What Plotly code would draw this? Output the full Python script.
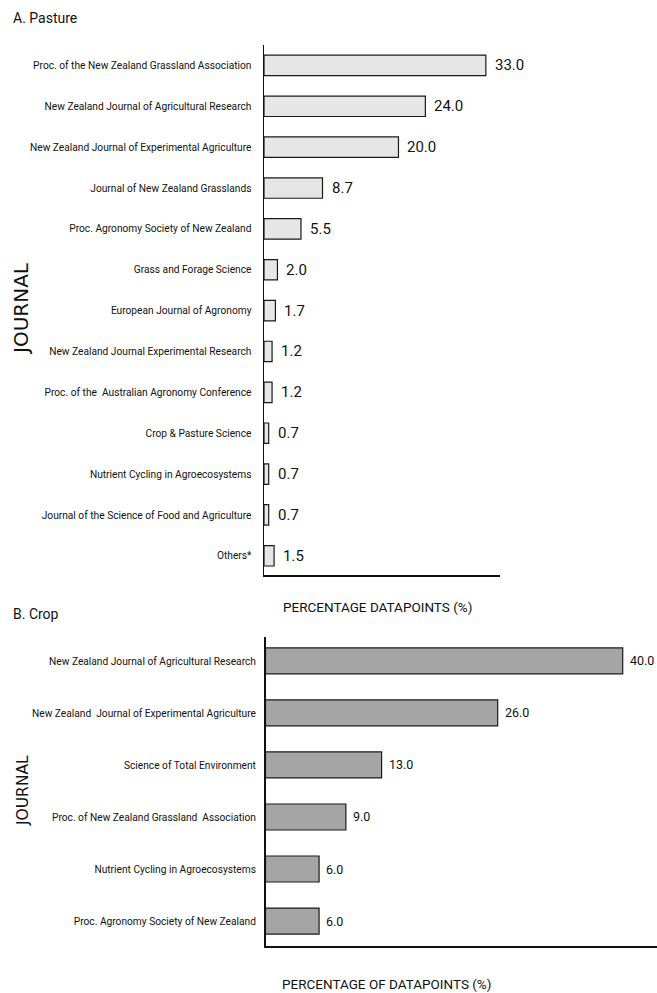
import plotly.graph_objects as go

W, H = 657, 993

# ---- Data ----
pasture_journals = [
    "Proc. of the New Zealand Grassland Association",
    "New Zealand Journal of Agricultural Research",
    "New Zealand Journal of Experimental Agriculture",
    "Journal of New Zealand Grasslands",
    "Proc. Agronomy Society of New Zealand",
    "Grass and Forage Science",
    "European Journal of Agronomy",
    "New Zealand Journal Experimental Research",
    "Proc. of the  Australian Agronomy Conference",
    "Crop & Pasture Science",
    "Nutrient Cycling in Agroecosystems",
    "Journal of the Science of Food and Agriculture",
    "Others*",
]
pasture_values = [33.0, 24.0, 20.0, 8.7, 5.5, 2.0, 1.7, 1.2, 1.2, 0.7, 0.7, 0.7, 1.5]

crop_journals = [
    "New Zealand Journal of Agricultural Research",
    "New Zealand  Journal of Experimental Agriculture",
    "Science of Total Environment",
    "Proc. of New Zealand Grassland  Association",
    "Nutrient Cycling in Agroecosystems",
    "Proc. Agronomy Society of New Zealand",
]
crop_values = [40.0, 26.0, 13.0, 9.0, 6.0, 6.0]

NARROW = "Roboto, Liberation Sans, sans-serif"
WIDE = "DejaVu Sans, Verdana, sans-serif"

fig = go.Figure()

fig.add_trace(go.Bar(
    y=pasture_journals, x=pasture_values, orientation="h", width=0.5,
    marker=dict(color="#e6e6e6", line=dict(color="#1a1a1a", width=1.2)),
    xaxis="x", yaxis="y", showlegend=False, hoverinfo="skip",
))
fig.add_trace(go.Bar(
    y=crop_journals, x=crop_values, orientation="h", width=0.5,
    marker=dict(color="#a5a5a5", line=dict(color="#1a1a1a", width=1.2)),
    xaxis="x2", yaxis="y2", showlegend=False, hoverinfo="skip",
))

annotations = []
for j, v in zip(pasture_journals, pasture_values):
    annotations.append(dict(x=v, y=j, xref="x", yref="y", text=f"{v:.1f}",
                            showarrow=False, xanchor="left", xshift=7,
                            font=dict(family=NARROW, size=15, color="#111")))
for j, v in zip(crop_journals, crop_values):
    annotations.append(dict(x=v, y=j, xref="x2", yref="y2", text=f"{v:.1f}",
                            showarrow=False, xanchor="left", xshift=5,
                            font=dict(family=NARROW, size=12.5, color="#111")))

def px_x(p):
    return p / W

def px_y(p):
    return 1 - p / H

# titles and axis titles
annotations += [
    dict(text="A. Pasture", x=px_x(11), y=px_y(18), xref="paper", yref="paper",
         xanchor="left", yanchor="middle", showarrow=False,
         font=dict(family=NARROW, size=14, color="#111")),
    dict(text="B. Crop", x=px_x(11), y=px_y(614), xref="paper", yref="paper",
         xanchor="left", yanchor="middle", showarrow=False,
         font=dict(family=NARROW, size=14, color="#111")),
    dict(text="PERCENTAGE DATAPOINTS (%)", x=px_x(377), y=px_y(607), xref="paper", yref="paper",
         xanchor="center", yanchor="middle", showarrow=False,
         font=dict(family=NARROW, size=13.5, color="#111")),
    dict(text="PERCENTAGE OF DATAPOINTS (%)", x=px_x(386), y=px_y(984), xref="paper", yref="paper",
         xanchor="center", yanchor="middle", showarrow=False,
         font=dict(family=NARROW, size=13.5, color="#111")),
    dict(text="JOURNAL", x=px_x(21), y=px_y(309), xref="paper", yref="paper",
         xanchor="center", yanchor="middle", showarrow=False, textangle=-90,
         font=dict(family=WIDE, size=20, color="#111")),
    dict(text="JOURNAL", x=px_x(23), y=px_y(791), xref="paper", yref="paper",
         xanchor="center", yanchor="middle", showarrow=False, textangle=-90,
         font=dict(family=WIDE, size=15.5, color="#111")),
]

axis_common = dict(showgrid=False, zeroline=False, showline=True,
                   linecolor="#111", linewidth=1.5, automargin=False)

fig.update_layout(
    width=W, height=H,
    margin=dict(l=0, r=0, t=0, b=0, autoexpand=False),
    paper_bgcolor="white", plot_bgcolor="white",
    bargap=0.5,
    annotations=annotations,
    xaxis=dict(domain=[px_x(264), px_x(500)], range=[0, 35.1], anchor="y",
               showticklabels=False, ticks="", **axis_common),
    yaxis=dict(domain=[px_y(575), px_y(45)], anchor="x",
               categoryorder="array", categoryarray=pasture_journals,
               range=[12.47, -0.5], ticks="", ticklabelstandoff=9,
               tickfont=dict(family=NARROW, size=10.2, color="#111"), **axis_common),
    xaxis2=dict(domain=[px_x(265.5), 1.0], range=[0, 43.84], anchor="y2",
                showticklabels=False, ticks="", **axis_common),
    yaxis2=dict(domain=[px_y(946), px_y(637)], anchor="x2",
                categoryorder="array", categoryarray=crop_journals,
                range=[5.48, -0.46], ticks="", ticklabelstandoff=6,
                tickfont=dict(family=NARROW, size=10.2, color="#111"), **axis_common),
)

fig.write_html("out.html", config={"displayModeBar": False, "staticPlot": True})

# remove the browser's default page margin so the figure sits at (0, 0)
with open("out.html", "r", encoding="utf-8") as f:
    html = f.read()
html = html.replace("<body>", '<body style="margin:0;overflow:hidden;">', 1)
with open("out.html", "w", encoding="utf-8") as f:
    f.write(html)
